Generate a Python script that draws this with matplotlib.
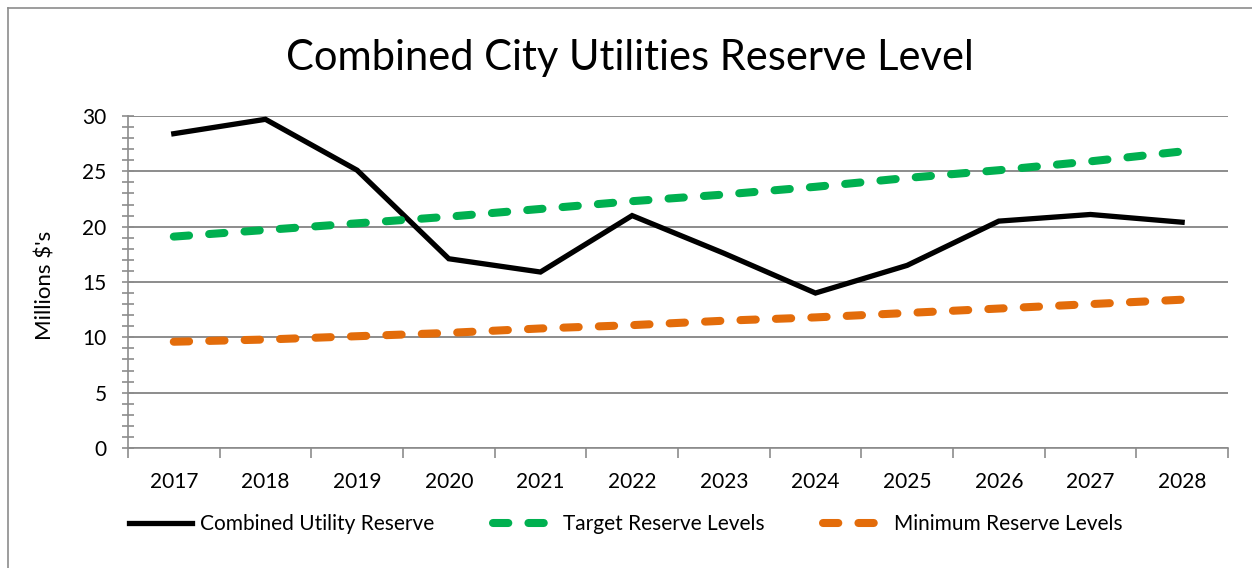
import matplotlib.pyplot as plt
from matplotlib.lines import Line2D
from matplotlib.ticker import MultipleLocator, FixedLocator

plt.rcParams['font.family'] = ['Lato', 'DejaVu Sans']

# Daten
years = ['2017', '2018', '2019', '2020', '2021', '2022', '2023', '2024', '2025', '2026', '2027', '2028']
combined = [28.4, 29.7, 25.1, 17.1, 15.9, 21.0, 17.6, 14.0, 16.5, 20.5, 21.1, 20.4]
target = [19.1, 19.7, 20.3, 20.9, 21.6, 22.3, 22.9, 23.6, 24.4, 25.1, 25.9, 26.8]
minimum = [9.6, 9.8, 10.1, 10.4, 10.8, 11.1, 11.5, 11.8, 12.2, 12.6, 13.0, 13.4]

fig = plt.figure(figsize=(12.52, 5.68), dpi=100)
ax = fig.add_axes([0.1022, 0.2113, 0.8786, 0.5845])

# Rahmen
grey = '#8c8c8c'
fig.add_artist(Line2D([8 / 1252, 8 / 1252], [0, 1 - 8 / 568], color=grey, lw=1.2, transform=fig.transFigure))
fig.add_artist(Line2D([8 / 1252, 1], [1 - 8 / 568, 1 - 8 / 568], color=grey, lw=1.2, transform=fig.transFigure))

x = list(range(len(years)))
ax.plot(x, combined, color='black', lw=3.8, solid_joinstyle='miter', label='Combined Utility Reserve', zorder=3)
ax.plot(x, target, color='#00b050', lw=5.8, dashes=(1.9, 2.5), dash_capstyle='round',
        label='Target Reserve Levels', zorder=3)
ax.plot(x, minimum, color='#e36c0a', lw=5.8, dashes=(1.9, 2.5), dash_capstyle='round',
        label='Minimum Reserve Levels', zorder=3)

ax.set_xlim(-0.5, len(years) - 0.5)
ax.set_ylim(0, 30)
ax.set_xticks(x)
ax.set_xticklabels(years, fontsize=15)
ax.xaxis.set_minor_locator(FixedLocator([i - 0.5 for i in range(len(years) + 1)]))
ax.tick_params(axis='x', which='major', length=0, pad=17)
ax.tick_params(axis='x', which='minor', length=7, color=grey, width=1.2)
ax.yaxis.set_major_locator(MultipleLocator(5))
ax.yaxis.set_minor_locator(MultipleLocator(1))
ax.tick_params(axis='y', which='both', direction='inout', length=9, color=grey, width=1.2, labelsize=15, pad=11)
ax.grid(axis='y', which='major', color=grey, lw=1.4)

for s in ['top', 'right']:
    ax.spines[s].set_visible(False)
for s in ['left', 'bottom']:
    ax.spines[s].set_color(grey)
    ax.spines[s].set_linewidth(1.2)

ax.set_ylabel("Millions $'s", fontsize=16)
ax.yaxis.set_label_coords(-0.066, 0.49)
fig.text(0.503, 0.898, 'Combined City Utilities Reserve Level', ha='center', va='center', fontsize=30)

fig.legend(loc='center', bbox_to_anchor=(0.5, 0.077), ncol=3, frameon=False, fontsize=15,
           handlelength=3.0, columnspacing=2.8, handletextpad=0.4)

fig.savefig('out.png', dpi=100)
